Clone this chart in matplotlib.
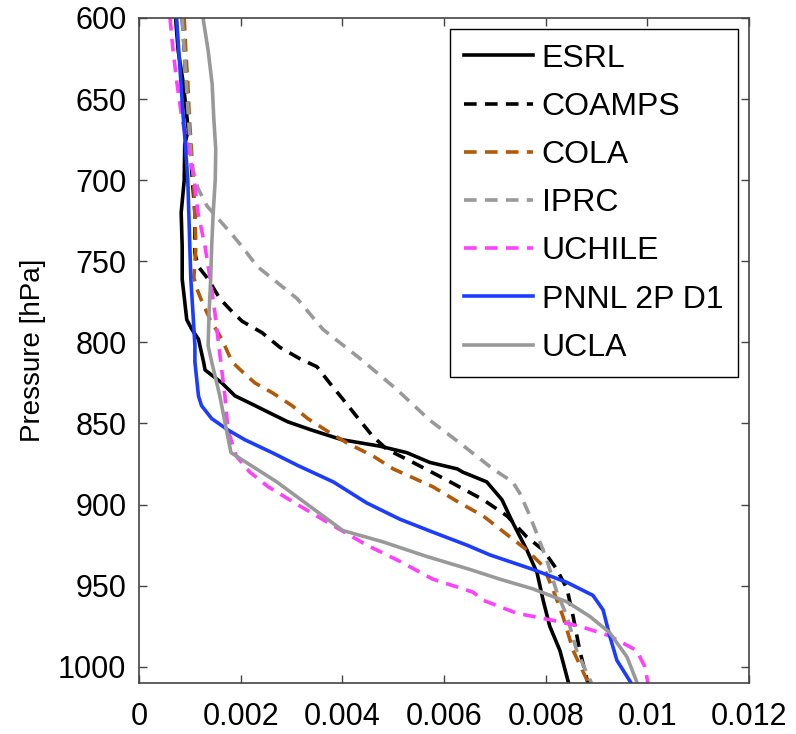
import matplotlib
matplotlib.use('Agg')
from matplotlib import pyplot as plt
from matplotlib.ticker import FuncFormatter

plt.rcParams['font.family'] = ['Liberation Sans', 'DejaVu Sans']

# pressure levels (hPa) and values for each model
esrl_p = [600, 620, 640, 669, 678, 700, 720, 741, 761, 786, 792, 798, 812, 817, 825, 833,
          838, 843, 849, 854, 860, 864, 868, 874, 878, 880, 886, 897, 911, 928, 942, 959,
          975, 990, 1010]
esrl_q = [0.00072, 0.00077, 0.00087, 0.00097, 0.00090, 0.00089, 0.00083, 0.00085, 0.00085,
          0.00094, 0.00104, 0.00117, 0.00127, 0.00130, 0.00163, 0.00189, 0.00222, 0.00254,
          0.00293, 0.00339, 0.00399, 0.00474, 0.00527, 0.00572, 0.00626, 0.00637, 0.00684,
          0.00714, 0.00735, 0.00763, 0.00783, 0.00795, 0.00808, 0.00828, 0.00845]

coamps_p = [600, 650, 700, 720, 745, 753, 761, 773, 781, 787, 794, 803, 810, 815, 825, 835,
            846, 858, 866, 874, 886, 897, 907, 920, 928, 940, 952, 969, 990, 1010]
coamps_q = [0.00085, 0.00095, 0.00105, 0.00110, 0.00110, 0.00116, 0.00136, 0.00159, 0.00183,
            0.00203, 0.00242, 0.00277, 0.00316, 0.00350, 0.00375, 0.00401, 0.00429, 0.00460,
            0.00488, 0.00539, 0.00612, 0.00677, 0.00724, 0.00763, 0.00795, 0.00822, 0.00842,
            0.00854, 0.00867, 0.00883]

cola_p = [600, 620, 640, 661, 705, 741, 760, 767, 775, 786, 798, 812, 818, 825, 831, 839,
          847, 855, 862, 870, 878, 889, 899, 907, 920, 928, 938, 952, 969, 990, 1010]
cola_q = [0.00089, 0.00092, 0.00096, 0.00099, 0.00108, 0.00112, 0.00108, 0.00114, 0.00124,
          0.00140, 0.00163, 0.00183, 0.00203, 0.00228, 0.00262, 0.00301, 0.00332, 0.00372,
          0.00409, 0.00460, 0.00500, 0.00578, 0.00631, 0.00677, 0.00730, 0.00763, 0.00795,
          0.00814, 0.00834, 0.00854, 0.00884]

iprc_p = [600, 650, 690, 705, 716, 732, 741, 753, 773, 792, 810, 829, 848, 862, 878, 886,
          893, 907, 920, 934, 954, 969, 990, 1010]
iprc_q = [0.00085, 0.00095, 0.00103, 0.00116, 0.00134, 0.00179, 0.00203, 0.00232, 0.00311,
          0.00362, 0.00435, 0.00507, 0.00572, 0.00631, 0.00696, 0.00735, 0.00749, 0.00769,
          0.00785, 0.00802, 0.00822, 0.00842, 0.00861, 0.00890]

uchile_p = [600, 620, 641, 661, 681, 700, 720, 741, 761, 781, 802, 833, 854, 870, 880, 889,
            901, 913, 925, 935, 946, 954, 959, 967, 971, 975, 981, 990, 1000, 1010]
uchile_q = [0.00061, 0.00067, 0.00075, 0.00084, 0.00097, 0.00109, 0.00116, 0.00130, 0.00140,
            0.00149, 0.00157, 0.00169, 0.00175, 0.00191, 0.00218, 0.00254, 0.00317, 0.00382,
            0.00448, 0.00513, 0.00578, 0.00657, 0.00677, 0.00743, 0.00808, 0.00867, 0.00926,
            0.00979, 0.00995, 0.01001]

pnnl_p = [600, 661, 673, 700, 720, 741, 761, 781, 802, 812, 833, 839, 847, 854, 860, 868,
          876, 886, 899, 909, 917, 925, 931, 940, 948, 956, 965, 981, 996, 1010]
pnnl_q = [0.00074, 0.00087, 0.00090, 0.00096, 0.00098, 0.00100, 0.00102, 0.00106, 0.00110,
          0.00110, 0.00117, 0.00123, 0.00143, 0.00175, 0.00208, 0.00262, 0.00313, 0.00382,
          0.00448, 0.00513, 0.00578, 0.00645, 0.00690, 0.00775, 0.00842, 0.00893, 0.00913,
          0.00926, 0.00940, 0.00968]

ucla_p = [600, 620, 641, 661, 681, 700, 720, 741, 761, 781, 802, 812, 833, 854, 868, 886,
          907, 916, 923, 932, 940, 946, 952, 960, 969, 979, 994, 1010]
ucla_q = [0.00126, 0.00136, 0.00144, 0.00147, 0.00151, 0.00150, 0.00146, 0.00143, 0.00141,
          0.00138, 0.00136, 0.00143, 0.00159, 0.00172, 0.00181, 0.00271, 0.00362, 0.00401,
          0.00480, 0.00566, 0.00651, 0.00710, 0.00775, 0.00842, 0.00887, 0.00926, 0.00960,
          0.00980]

xticks = [0, 0.002, 0.004, 0.006, 0.008, 0.01, 0.012]
yticks = [600, 650, 700, 750, 800, 850, 900, 950, 1000]

fig = plt.figure(figsize=(7.96, 7.34), dpi=100)
ax = fig.add_axes([0.1746, 0.0695, 0.7664, 0.906])

lw = 2.6
dash = (3.5, 2.3)
ax.plot(esrl_q, esrl_p, color='black', lw=lw, label='ESRL')
ax.plot(coamps_q, coamps_p, color='black', lw=lw, dashes=dash, label='COAMPS')
ax.plot(cola_q, cola_p, color='#b35a0a', lw=lw, dashes=dash, label='COLA')
ax.plot(iprc_q, iprc_p, color='#999999', lw=lw, dashes=dash, label='IPRC')
ax.plot(uchile_q, uchile_p, color='#ff40ff', lw=lw, dashes=dash, label='UCHILE')
ax.plot(pnnl_q, pnnl_p, color='#1c3cff', lw=lw, label='PNNL 2P D1')
ax.plot(ucla_q, ucla_p, color='#999999', lw=lw, label='UCLA')

ax.set_xlim(0, 0.012)
ax.set_ylim(1010, 600)
ax.set_xticks(xticks)
ax.set_yticks(yticks)
ax.xaxis.set_major_formatter(FuncFormatter(lambda v, pos: '%g' % v))
ax.tick_params(axis='both', direction='in', length=6, width=1, color='#444444',
               top=True, right=True, labelsize=22)
ax.tick_params(axis='x', pad=14)
ax.tick_params(axis='y', pad=9)
for s in ax.spines.values():
    s.set_color('#444444')
    s.set_linewidth(1.2)

ax.set_ylabel('Pressure [hPa]', fontsize=20)
ax.yaxis.set_label_coords(-0.152, 0.5)

leg = ax.legend(loc='upper right', fontsize=23, fancybox=False, framealpha=1,
                edgecolor='black', handlelength=2.15, handletextpad=0.28,
                labelspacing=0.57, borderpad=0.45, borderaxespad=0.35)
leg.get_frame().set_linewidth(1.0)

plt.savefig('out.png', dpi=100)
